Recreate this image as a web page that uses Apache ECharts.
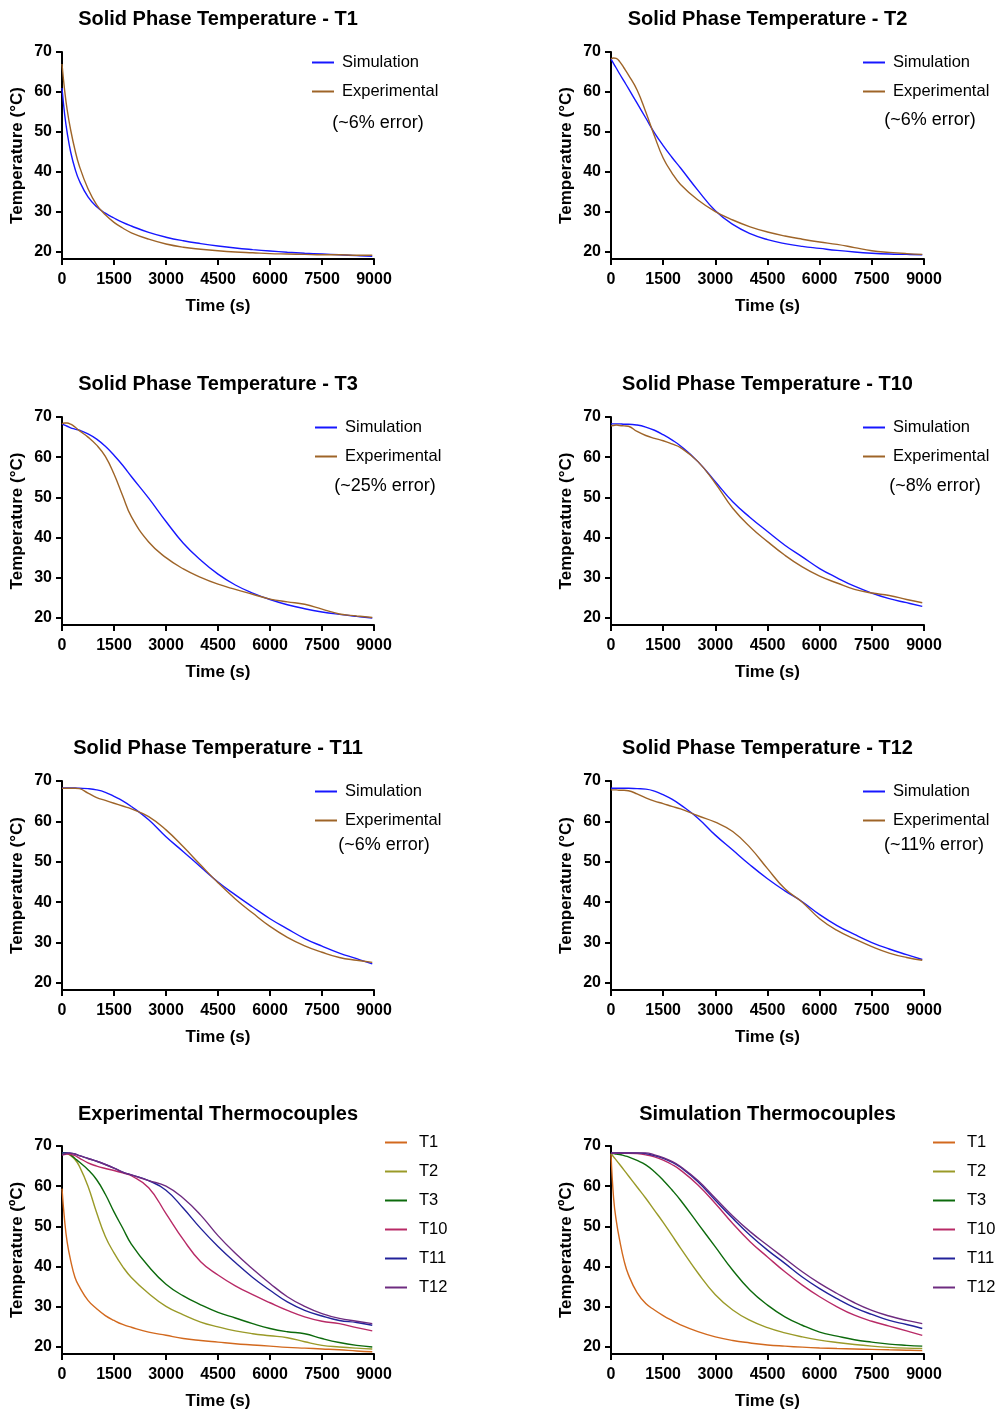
<!doctype html>
<html lang="en">
<head>
<meta charset="UTF-8">
<title>Solid Phase Temperature</title>
<style>
  html, body { margin: 0; padding: 0; background: #fff; }
  #chart { width: 998px; height: 1414px; }
</style>
</head>
<body>
<div id="chart"></div>
<script src="https://cdn.jsdelivr.net/npm/echarts@6/dist/echarts.min.js"></script>
<script>
// sample times (s), shared by every curve
var time = [0, 75, 150, 250, 375, 500, 750, 1000, 1250, 1500, 1750, 2000, 2500, 3000, 3500, 4000, 4500, 5000, 5500, 6000, 6500, 7000, 7500, 8000, 8500, 8950];
var xTicks = { min: 0, max: 9000, step: 1500 };
var yTicks = [20, 30, 40, 50, 60, 70];

// solid phase panels: simulation vs experimental (°C)
var simT1 = [61, 54.5, 49.8, 45.0, 40.8, 37.8, 33.8, 31.3, 29.7, 28.5, 27.4, 26.5, 24.9, 23.7, 22.8, 22.1, 21.5, 21.0, 20.6, 20.25, 19.95, 19.7, 19.5, 19.3, 19.1, 18.9];
var expT1 = [67, 60.5, 55.5, 50.5, 45.5, 41.5, 35.8, 31.8, 29.3, 27.4, 26.0, 24.8, 23.2, 22.0, 21.2, 20.7, 20.3, 20.0, 19.8, 19.6, 19.5, 19.4, 19.3, 19.3, 19.2, 19.2];
var simT2 = [68.2, 67.1, 66.0, 64.5, 62.7, 60.9, 57.2, 53.5, 49.8, 46.6, 43.7, 41.0, 35.4, 30.3, 26.9, 24.6, 23.1, 22.1, 21.4, 20.9, 20.4, 20.0, 19.7, 19.5, 19.4, 19.3];
var expT2 = [68.3, 68.5, 68.4, 67.6, 66.0, 64.3, 60.5, 55.0, 49.0, 43.5, 39.8, 36.9, 33.0, 30.1, 28.0, 26.3, 25.0, 24.0, 23.2, 22.5, 21.9, 21.1, 20.3, 19.9, 19.6, 19.4];
var simT3 = [68.3, 68.0, 67.7, 67.3, 67.0, 66.7, 65.8, 64.5, 62.7, 60.5, 58.0, 55.2, 49.8, 44.0, 38.6, 34.4, 30.9, 28.2, 26.2, 24.6, 23.3, 22.3, 21.5, 20.9, 20.4, 20.0];
var expT3 = [68.3, 68.5, 68.5, 68.2, 67.5, 66.6, 65.0, 63.0, 60.2, 55.8, 50.4, 45.2, 38.9, 35.0, 32.2, 30.1, 28.4, 27.1, 25.9, 24.7, 24.0, 23.4, 22.2, 21.0, 20.5, 20.1];
var simT10 = [68.3, 68.3, 68.3, 68.3, 68.2, 68.2, 68.0, 67.5, 66.7, 65.6, 64.3, 62.8, 58.9, 53.9, 48.9, 45.0, 41.5, 38.1, 35.2, 32.3, 30.0, 27.9, 26.2, 24.8, 23.8, 22.9];
var expT10 = [67.8, 67.9, 68.0, 67.9, 67.8, 67.7, 66.4, 65.4, 64.7, 64.1, 63.3, 62.4, 58.9, 53.5, 47.3, 42.7, 39.0, 35.6, 32.7, 30.4, 28.7, 27.1, 26.2, 25.6, 24.6, 23.8];
var simT11 = [68.25, 68.25, 68.25, 68.25, 68.25, 68.2, 68.1, 67.8, 67.2, 66.2, 65.1, 63.7, 60.4, 56.2, 52.5, 48.7, 45.0, 41.8, 38.8, 35.9, 33.4, 31.0, 29.1, 27.4, 26.0, 24.7];
var expT11 = [68.2, 68.2, 68.2, 68.2, 68.2, 68.1, 67.0, 65.9, 65.2, 64.5, 63.8, 63.1, 61.2, 57.9, 53.7, 49.2, 44.8, 40.8, 37.3, 34.0, 31.3, 29.2, 27.6, 26.3, 25.6, 25.1];
var simT12 = [68.2, 68.2, 68.2, 68.2, 68.2, 68.2, 68.1, 68.0, 67.5, 66.6, 65.5, 64.1, 60.8, 56.6, 52.9, 49.2, 45.8, 42.8, 40.1, 36.9, 34.2, 32.0, 30.0, 28.4, 27.0, 25.8];
var expT12 = [67.8, 67.8, 67.8, 67.7, 67.7, 67.6, 66.8, 65.8, 65.0, 64.4, 63.7, 63.1, 61.4, 59.8, 57.5, 53.5, 48.3, 43.3, 40.0, 35.9, 33.0, 30.9, 29.0, 27.4, 26.3, 25.6];

// experimental thermocouples panel
var exTC = {
  T1:  [59.4, 51.5, 46.0, 41.5, 37.3, 35.0, 31.6, 29.5, 27.8, 26.6, 25.6, 24.9, 23.7, 22.9, 22.1, 21.6, 21.2, 20.8, 20.5, 20.2, 19.9, 19.7, 19.5, 19.3, 19.0, 18.8],
  T2:  [68.3, 68.3, 68.1, 67.6, 66.6, 65.0, 60.0, 53.4, 47.5, 43.4, 40.0, 37.3, 33.3, 30.1, 28.0, 26.2, 25.0, 24.0, 23.3, 22.8, 22.3, 21.3, 20.4, 20.0, 19.7, 19.5],
  T3:  [68.3, 68.3, 68.2, 67.8, 66.9, 66.0, 64.1, 61.6, 58.0, 53.6, 49.6, 45.6, 40.0, 35.6, 32.7, 30.5, 28.6, 27.2, 25.8, 24.6, 23.8, 23.3, 22.1, 21.1, 20.4, 20.0],
  T10: [67.8, 67.9, 68.0, 67.9, 67.6, 67.0, 65.8, 65.0, 64.4, 63.9, 63.3, 62.6, 59.6, 53.2, 46.7, 41.2, 37.9, 35.2, 33.0, 31.0, 29.1, 27.5, 26.4, 25.8, 24.8, 24.0],
  T11: [68.3, 68.3, 68.3, 68.2, 68.0, 67.6, 66.9, 66.2, 65.4, 64.5, 63.5, 62.8, 61.4, 59.0, 54.5, 49.5, 45.0, 41.0, 37.3, 34.1, 31.2, 29.1, 27.7, 26.6, 26.1, 25.4],
  T12: [67.8, 68.0, 68.2, 68.2, 68.0, 67.6, 66.9, 66.2, 65.4, 64.5, 63.5, 62.8, 61.4, 60.0, 57.0, 52.8, 47.7, 43.3, 39.4, 35.8, 32.5, 30.1, 28.3, 27.1, 26.4, 25.8]
};

// simulation thermocouples panel
var simTC = {
  T1:  [68.0, 57, 51.5, 46.5, 41.5, 38.0, 33.5, 30.8, 29.2, 27.8, 26.6, 25.5, 23.8, 22.5, 21.6, 21.0, 20.5, 20.2, 19.95, 19.75, 19.6, 19.5, 19.4, 19.3, 19.2, 19.1],
  T2:  [68.2, 67.3, 66.5, 65.4, 64.0, 62.6, 59.8, 57.0, 54.0, 51.0, 47.8, 44.6, 38.4, 33.0, 29.2, 26.6, 24.8, 23.5, 22.5, 21.7, 21.1, 20.6, 20.2, 19.9, 19.7, 19.6],
  T3:  [68.2, 68.1, 68.0, 67.9, 67.6, 67.3, 66.4, 65.3, 63.6, 61.5, 59.1, 56.5, 50.7, 44.9, 39.1, 34.1, 30.4, 27.5, 25.4, 23.7, 22.7, 21.8, 21.2, 20.7, 20.4, 20.2],
  T10: [68.2, 68.2, 68.2, 68.2, 68.2, 68.2, 68.1, 67.8, 67.3, 66.5, 65.4, 64.0, 60.3, 55.7, 50.7, 46.2, 42.4, 38.7, 35.4, 32.5, 30.0, 27.9, 26.4, 25.2, 24.0, 22.9],
  T11: [68.3, 68.3, 68.3, 68.3, 68.3, 68.3, 68.3, 68.1, 67.6, 66.9, 66.0, 64.7, 61.1, 56.5, 52.0, 47.8, 44.1, 40.8, 37.4, 34.5, 32.0, 29.8, 28.1, 26.6, 25.6, 24.6],
  T12: [68.3, 68.3, 68.3, 68.3, 68.3, 68.3, 68.3, 68.3, 67.8, 67.1, 66.2, 64.9, 61.4, 57.0, 52.6, 48.7, 45.3, 42.0, 38.7, 35.8, 33.3, 31.0, 29.1, 27.7, 26.6, 25.8]
};
var tcNames = ['T1', 'T2', 'T3', 'T10', 'T11', 'T12'];

var panels = [
  { title: 'Solid Phase Temperature - T1', note: '(~6% error)', sim: simT1, exp: expT1 },
  { title: 'Solid Phase Temperature - T2', note: '(~6% error)', sim: simT2, exp: expT2 },
  { title: 'Solid Phase Temperature - T3', note: '(~25% error)', sim: simT3, exp: expT3 },
  { title: 'Solid Phase Temperature - T10', note: '(~8% error)', sim: simT10, exp: expT10 },
  { title: 'Solid Phase Temperature - T11', note: '(~6% error)', sim: simT11, exp: expT11 },
  { title: 'Solid Phase Temperature - T12', note: '(~11% error)', sim: simT12, exp: expT12 },
  { title: 'Experimental Thermocouples', tc: exTC },
  { title: 'Simulation Thermocouples', tc: simTC }
];

var font = 'Arial, "Liberation Sans", sans-serif';
var simColor = '#1717ff', expColor = '#9e6428';
var tcColors = { T1: '#d2691e', T2: '#9a9a28', T3: '#0c6a0c', T10: '#b82a66', T11: '#22229a', T12: '#6e2c80' };

// layout
var gridLeft = [62, 611], gridW = [312, 313];
var gridTop = [52, 417, 781, 1146], gridH = [207, 208, 209, 208];
var titleY = [18, 383, 747, 1113];
var legendTop = [54, 419, 783, 1134];
var legendLeft = [[312, 863], [315, 863], [315, 863], [385, 933]];
var legendTextPad = [3, 3, 3, 7];
var noteX = [[378, 930], [385, 935], [384, 934]];
var noteY = [[122, 119], [485, 485], [844, 844]];

function pairs(vals) {
  return time.map(function (t, i) { return [t, vals[i]]; });
}

var black = '#000';
var option = {
  animation: false,
  backgroundColor: '#fff',
  textStyle: { fontFamily: font },
  title: [], grid: [], xAxis: [], yAxis: [], legend: [], series: []
};

panels.forEach(function (p, i) {
  var col = i % 2, row = Math.floor(i / 2);
  var cx = gridLeft[col] + gridW[col] / 2;

  option.title.push({
    text: p.title, left: cx, top: titleY[row] - 9, textAlign: 'center', padding: 0,
    textStyle: { fontFamily: font, fontSize: 20, fontWeight: 'bold', color: black }
  });
  if (p.note) {
    option.title.push({
      text: p.note, left: noteX[row][col], top: noteY[row][col] - 8, textAlign: 'center', padding: 0,
      textStyle: { fontFamily: font, fontSize: 18, fontWeight: 'normal', color: black }
    });
  }

  option.grid.push({ left: gridLeft[col], top: gridTop[row], width: gridW[col], height: gridH[row] });

  option.xAxis.push({
    type: 'value', gridIndex: i, min: xTicks.min, max: xTicks.max, interval: xTicks.step,
    name: 'Time (s)', nameLocation: 'middle', nameGap: 39,
    nameTextStyle: { fontFamily: font, fontSize: 17, fontWeight: 'bold', color: black },
    axisLine: { show: true, onZero: false, lineStyle: { color: black, width: 2 } },
    axisTick: { show: true, length: 6, lineStyle: { color: black, width: 2 } },
    axisLabel: {
      margin: 13, color: black, fontFamily: font, fontSize: 16, fontWeight: 'bold',
      formatter: function (v) { return String(v); }
    },
    splitLine: { show: false }
  });

  option.yAxis.push({
    type: 'value', gridIndex: i, min: 18.25, max: 70,
    name: row === 3 ? 'Temperature (\u00baC)' : 'Temperature (\u00b0C)',
    nameLocation: 'middle', nameGap: 36,
    nameTextStyle: { fontFamily: font, fontSize: 17, fontWeight: 'bold', color: black },
    axisLine: { show: true, onZero: false, lineStyle: { color: black, width: 2 } },
    axisTick: { show: true, length: 6, customValues: yTicks, lineStyle: { color: black, width: 2 } },
    axisLabel: { customValues: yTicks, margin: 10, color: black, fontFamily: font, fontSize: 16, fontWeight: 'bold' },
    splitLine: { show: false }
  });

  var names = p.tc ? tcNames : ['Simulation', 'Experimental'];
  option.legend.push({
    orient: 'vertical', left: legendLeft[row][col], top: legendTop[row], padding: 0,
    icon: 'rect', itemGap: 12, itemWidth: 22, itemHeight: 2,
    data: names,
    textStyle: { fontFamily: font, fontSize: 16.5, color: black, lineHeight: 16, padding: [0, 0, 0, legendTextPad[row]] }
  });

  var line = function (name, vals, color) {
    return {
      type: 'line', name: name, xAxisIndex: i, yAxisIndex: i, data: pairs(vals),
      symbol: 'none', smooth: 0.45,
      lineStyle: { width: 1.4, color: color }, itemStyle: { color: color }
    };
  };
  if (p.tc) {
    tcNames.forEach(function (n) { option.series.push(line(n, p.tc[n], tcColors[n])); });
  } else {
    option.series.push(line('Simulation', p.sim, simColor));
    option.series.push(line('Experimental', p.exp, expColor));
  }
});

var chart = echarts.init(document.getElementById('chart'));
chart.setOption(option);
</script>
</body>
</html>
